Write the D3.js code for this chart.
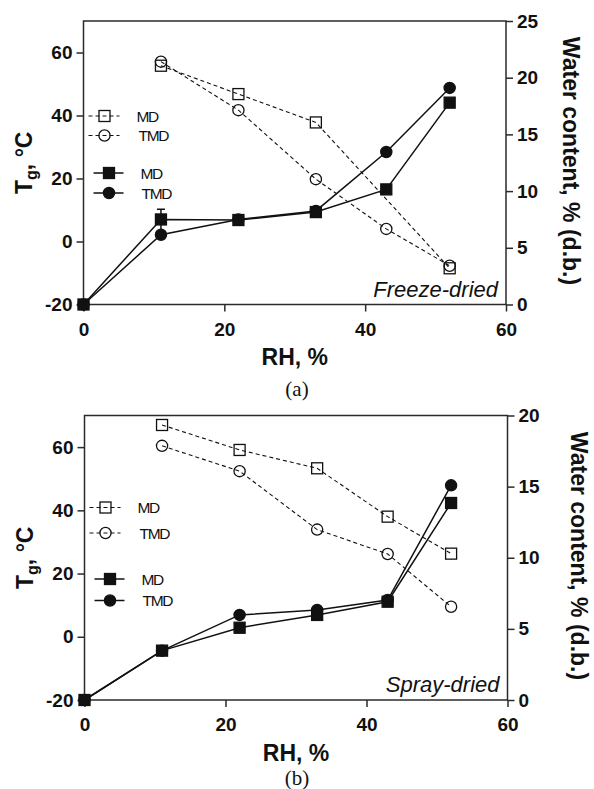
<!DOCTYPE html>
<html>
<head>
<meta charset="utf-8">
<script src="https://cdn.jsdelivr.net/npm/d3@7/dist/d3.min.js"></script>
<style>
  html, body { margin: 0; padding: 0; background: #fff; }
  svg { display: block; }
  text { font-family: "Liberation Sans", Arial, sans-serif; fill: #111; }
</style>
</head>
<body>
<svg id="chart" width="594" height="789"></svg>
<script>
// ---------- data ----------
const rhAll = [0, 11, 22, 33, 43, 52];
const rhTgFull = [11, 22, 33, 43, 52];
const rhTgFdMD = [11, 22, 33, 52];

// (a) Freeze-dried
const fdTgMD = [55.8, 46.8, 37.8, -8.5];          // at rhTgFdMD
const fdTgTMD = [57.1, 41.7, 19.8, 4.0, -7.7];    // at rhTgFull
const fdWcMD = [0, 7.5, 7.45, 8.15, 10.15, 17.8]; // at rhAll
const fdWcMDErr = [0, 0.9, 0, 0, 0, 0];
const fdWcTMD = [0, 6.15, 7.5, 8.25, 13.45, 19.1];

// (b) Spray-dried
const sdTgMD = [67.0, 59.1, 53.3, 38.0, 26.3];    // at rhTgFull
const sdTgTMD = [60.4, 52.4, 33.9, 26.2, 9.5];
const sdWcMD = [0, 3.47, 5.08, 5.98, 6.91, 13.85];
const sdWcTMD = [0, 3.47, 5.98, 6.33, 7.03, 15.09];

const xTicks = [0, 20, 40, 60];
const leftTicks = [-20, 0, 20, 40, 60];
const rightTicksA = [0, 5, 10, 15, 20, 25];
const rightTicksB = [0, 5, 10, 15, 20];
const legendLabels = ["MD", "TMD"];

// ---------- drawing ----------
const svg = d3.select("#chart");

function panel(cfg) {
  const g = svg.append("g");
  const x = d3.scaleLinear().domain([0, 60]).range([cfg.x0, cfg.x1]);
  const yL = d3.scaleLinear().domain([-20, 70]).range([cfg.yB, cfg.yT]);
  const yR = d3.scaleLinear().domain([0, cfg.rMax]).range([cfg.yB, cfg.yT]);
  const axisColor = "#2a2a2a";

  // frame
  g.append("rect")
    .attr("x", cfg.x0).attr("y", cfg.yT)
    .attr("width", cfg.x1 - cfg.x0).attr("height", cfg.yB - cfg.yT)
    .attr("fill", "none").attr("stroke", axisColor).attr("stroke-width", 1.5);

  // axes
  const ax = g.append("g").attr("transform", `translate(0,${cfg.yB})`)
    .call(d3.axisBottom(x).tickValues(xTicks).tickSize(7).tickPadding(11).tickFormat(d3.format("d")));
  const al = g.append("g").attr("transform", `translate(${cfg.x0},0)`)
    .call(d3.axisLeft(yL).tickValues(leftTicks).tickSize(7).tickPadding(4).tickFormat(d => d < 0 ? "-" + Math.abs(d) : d));
  const ar = g.append("g").attr("transform", `translate(${cfg.x1},0)`)
    .call(d3.axisRight(yR).tickValues(cfg.rTicks).tickSize(7).tickPadding(4).tickFormat(d3.format("d")));
  [ax, al, ar].forEach(a => {
    a.select(".domain").remove();
    a.selectAll(".tick line").attr("stroke", axisColor).attr("stroke-width", 1.5);
    a.selectAll(".tick text").attr("fill", "#111")
      .style("font-family", "'Liberation Sans', Arial, sans-serif")
      .style("font-size", "19px").style("font-weight", "bold");
  });

  // axis titles
  const tl = g.append("text")
    .attr("transform", `translate(${cfg.tgX},${(cfg.yT + cfg.yB) / 2}) rotate(-90)`)
    .attr("text-anchor", "middle")
    .style("font-size", "23px").style("font-weight", "bold");
  tl.append("tspan").text("T");
  tl.append("tspan").text("g").style("font-size", "16px").attr("dy", "0.3em");
  tl.append("tspan").text(", °C").attr("dy", "-0.2em");

  g.append("text")
    .attr("transform", `translate(${cfg.wcX},${cfg.wcY}) rotate(90)`)
    .attr("text-anchor", "middle")
    .style("font-size", "23px").style("font-weight", "bold")
    .text("Water content, % (d.b.)");

  g.append("text")
    .attr("x", (cfg.x0 + cfg.x1) / 2).attr("y", cfg.rhY)
    .attr("text-anchor", "middle")
    .style("font-size", "23px").style("font-weight", "bold")
    .text("RH, %");

  g.append("text")
    .attr("x", 297).attr("y", cfg.capY)
    .attr("text-anchor", "middle")
    .style("font-family", "'Liberation Serif', 'Times New Roman', serif")
    .style("font-size", "21px")
    .text(cfg.caption);

  g.append("text")
    .attr("x", cfg.x1 - 8).attr("y", cfg.yB - 8)
    .attr("text-anchor", "end")
    .style("font-size", "22px").style("font-style", "italic")
    .text(cfg.label);

  // series
  const lineL = d3.line().x(d => x(d[0])).y(d => yL(d[1]));
  const lineR = d3.line().x(d => x(d[0])).y(d => yR(d[1]));
  const sq = 11, rc = 5.6;

  function drawSeries(pts, line, dashed) {
    g.append("path").datum(pts).attr("d", line)
      .attr("fill", "none").attr("stroke", "#111")
      .attr("stroke-width", dashed ? 1.1 : 1.5)
      .attr("stroke-dasharray", dashed ? "4,3" : null);
  }
  function drawMarkers(pts, sx, sy, shape, filled) {
    if (shape === "square") {
      g.selectAll(null).data(pts).enter().append("rect")
        .attr("x", d => sx(d[0]) - sq / 2).attr("y", d => sy(d[1]) - sq / 2)
        .attr("width", sq).attr("height", sq)
        .attr("fill", filled ? "#111" : "none").attr("stroke", "#111").attr("stroke-width", 1.3);
    } else {
      g.selectAll(null).data(pts).enter().append("circle")
        .attr("cx", d => sx(d[0])).attr("cy", d => sy(d[1])).attr("r", rc)
        .attr("fill", filled ? "#111" : "none").attr("stroke", "#111").attr("stroke-width", 1.3);
    }
  }

  const tgMDpts = cfg.tgMDx.map((r, i) => [r, cfg.tgMD[i]]);
  const tgTMDpts = rhTgFull.map((r, i) => [r, cfg.tgTMD[i]]);
  const wcMDpts = rhAll.map((r, i) => [r, cfg.wcMD[i]]);
  const wcTMDpts = rhAll.map((r, i) => [r, cfg.wcTMD[i]]);

  drawSeries(tgMDpts, lineL, true);
  drawSeries(tgTMDpts, lineL, true);
  drawSeries(wcMDpts, lineR, false);
  drawSeries(wcTMDpts, lineR, false);

  // error bars
  if (cfg.wcMDErr) {
    rhAll.forEach((r, i) => {
      const e = cfg.wcMDErr[i];
      if (!e) return;
      const xx = x(r), y1 = yR(cfg.wcMD[i] + e), y2 = yR(cfg.wcMD[i] - e);
      g.append("line").attr("x1", xx).attr("x2", xx).attr("y1", y1).attr("y2", y2)
        .attr("stroke", "#111").attr("stroke-width", 1.5);
      g.append("line").attr("x1", xx - 4).attr("x2", xx + 4).attr("y1", y1).attr("y2", y1)
        .attr("stroke", "#111").attr("stroke-width", 1.5);
    });
  }

  drawMarkers(tgMDpts, x, yL, "square", false);
  drawMarkers(tgTMDpts, x, yL, "circle", false);
  drawMarkers(wcTMDpts, x, yR, "circle", true);
  drawMarkers(wcMDpts, x, yR, "square", true);

  // legend
  const lg = g.append("g");
  const legendRows = [
    { y: cfg.legY[0], dashed: true, shape: "square", filled: false, lx0: cfg.x0 + 5, lx1: cfg.x0 + 36, mx: cfg.x0 + 21, tx: cfg.x0 + 53, label: legendLabels[0] },
    { y: cfg.legY[1], dashed: true, shape: "circle", filled: false, lx0: cfg.x0 + 5, lx1: cfg.x0 + 36, mx: cfg.x0 + 21, tx: cfg.x0 + 55, label: legendLabels[1] },
    { y: cfg.legY[2], dashed: false, shape: "square", filled: true, lx0: cfg.x0 + 10, lx1: cfg.x0 + 40, mx: cfg.x0 + 25.5, tx: cfg.x0 + 57, label: legendLabels[0] },
    { y: cfg.legY[3], dashed: false, shape: "circle", filled: true, lx0: cfg.x0 + 10, lx1: cfg.x0 + 40, mx: cfg.x0 + 25.5, tx: cfg.x0 + 58, label: legendLabels[1] }
  ];
  legendRows.forEach(r => {
    lg.append("line").attr("x1", r.lx0).attr("x2", r.lx1).attr("y1", r.y).attr("y2", r.y)
      .attr("stroke", "#111").attr("stroke-width", r.dashed ? 1.1 : 1.5)
      .attr("stroke-dasharray", r.dashed ? "4,3" : null);
    if (r.shape === "square") {
      lg.append("rect").attr("x", r.mx - sq / 2).attr("y", r.y - sq / 2).attr("width", sq).attr("height", sq)
        .attr("fill", r.filled ? "#111" : "none").attr("stroke", "#111").attr("stroke-width", 1.3);
    } else {
      lg.append("circle").attr("cx", r.mx).attr("cy", r.y).attr("r", rc)
        .attr("fill", r.filled ? "#111" : "none").attr("stroke", "#111").attr("stroke-width", 1.3);
    }
    lg.append("text").attr("x", r.tx).attr("y", r.y + 5.5)
      .style("font-size", "15.5px").style("letter-spacing", "-1.3px")
      .text(r.label);
  });
}

panel({
  x0: 83.5, x1: 506, yT: 21, yB: 304.5, rMax: 25, rTicks: rightTicksA,
  tgX: 32, wcX: 563, wcY: 161, rhY: 365, capY: 396, caption: "(a)", label: "Freeze-dried",
  tgMDx: rhTgFdMD, tgMD: fdTgMD, tgTMD: fdTgTMD, wcMD: fdWcMD, wcTMD: fdWcTMD, wcMDErr: fdWcMDErr,
  legY: [116, 135.5, 173, 193]
});

panel({
  x0: 84.5, x1: 507.5, yT: 415.5, yB: 700, rMax: 20, rTicks: rightTicksB,
  tgX: 33, wcX: 571, wcY: 556, rhY: 760.5, capY: 785, caption: "(b)", label: "Spray-dried",
  tgMDx: rhTgFull, tgMD: sdTgMD, tgTMD: sdTgTMD, wcMD: sdWcMD, wcTMD: sdWcTMD, wcMDErr: null,
  legY: [507.5, 533, 579, 600.5]
});
</script>
</body>
</html>
